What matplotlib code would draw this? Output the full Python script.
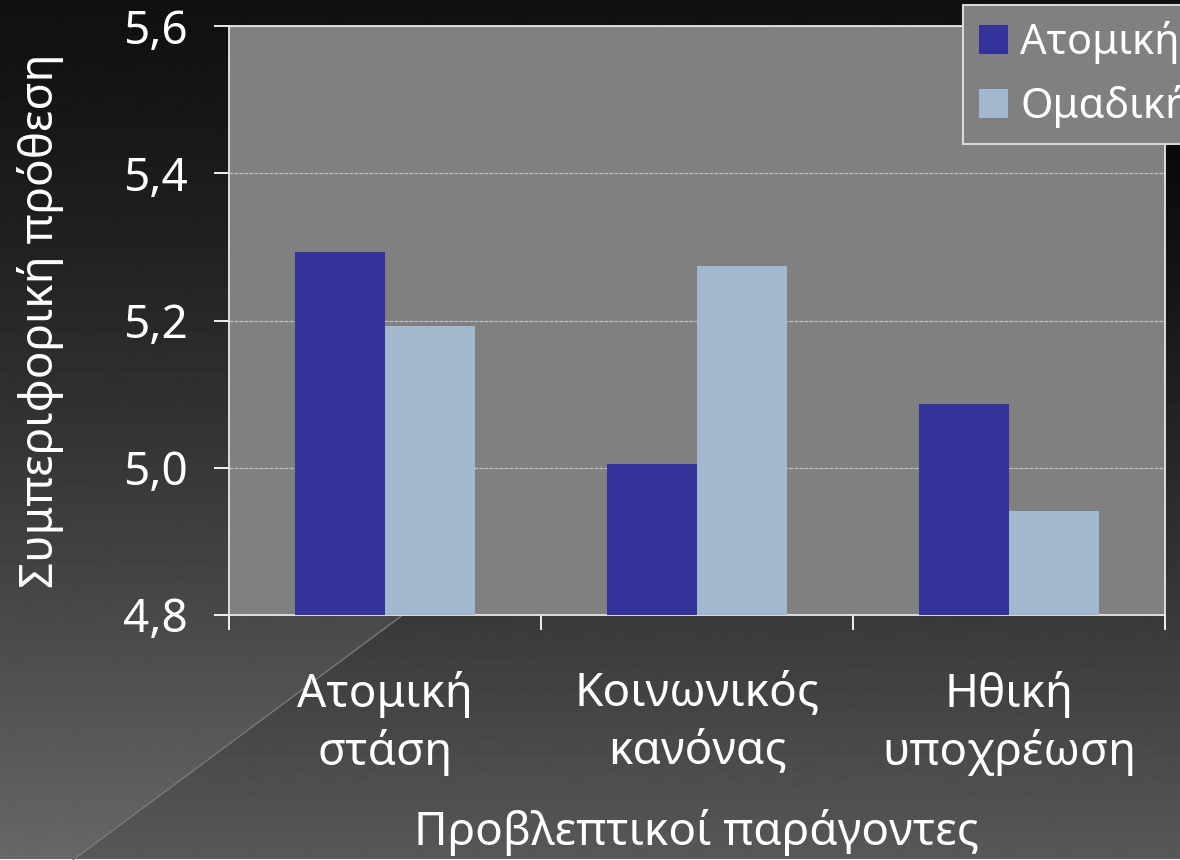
import numpy as np
import matplotlib
matplotlib.use('Agg')
import matplotlib.pyplot as plt
from matplotlib.ticker import FixedLocator, FuncFormatter

plt.rcParams['font.family'] = ['Noto Sans', 'DejaVu Sans']
plt.rcParams['font.weight'] = 'light'

# Data
categories = ['Ατομική\nστάση', 'Κοινωνικός\nκανόνας', 'Ηθική\nυποχρέωση']
series_names = ['Ατομική', 'Ομαδική']
atomiki = [5.293, 5.005, 5.087]
omadiki = [5.192, 5.274, 4.941]
y_ticks = [4.8, 5.0, 5.2, 5.4, 5.6]

W, H = 1180, 860
fig = plt.figure(figsize=(W / 100, H / 100), dpi=100)

# Background: vertical gradient, slightly darker to the right of a diagonal line
bg = fig.add_axes([0, 0, 1, 1], zorder=-10)
yy, xx = np.mgrid[0:H, 0:W]
shade = 0.065 + 0.34 * (yy / H) ** 1.3
right_side = (yy - 617) > -0.743 * (xx - 400)
shade = np.where(right_side, shade - 0.06, shade)
shade = np.clip(shade, 0, 1)
bg.imshow(shade, cmap='gray', vmin=0, vmax=1, aspect='auto', interpolation='bilinear')
bg.plot([73, 400, 1230], [860, 617, 0], color='#7a7a7a', lw=1)
bg.set_xlim(0, W)
bg.set_ylim(H, 0)
bg.axis('off')

ax = fig.add_axes([229 / W, 1 - 615 / H, (1165 - 229) / W, (615 - 26) / H])
ax.set_facecolor('#808080')

x = np.arange(len(categories))
bw = 0.29
ax.bar(x - bw / 2, [v - 4.8 for v in atomiki], bw, bottom=4.8, color='#333399',
       label=series_names[0], zorder=3)
ax.bar(x + bw / 2, [v - 4.8 for v in omadiki], bw, bottom=4.8, color='#A2B8CF',
       label=series_names[1], zorder=3)

ax.set_xlim(-0.5, len(categories) - 0.5)
ax.set_ylim(4.8, 5.6)
ax.set_yticks(y_ticks)
ax.yaxis.set_major_formatter(FuncFormatter(lambda v, p: f'{v:.1f}'.replace('.', ',')))
ax.yaxis.grid(True, color='#c0c0c0', linestyle=(0, (3, 1)), linewidth=0.9, zorder=0)

ax.xaxis.set_major_locator(FixedLocator(np.arange(-0.5, len(categories), 1.0)))
ax.xaxis.set_major_formatter(FuncFormatter(lambda v, p: ''))
ax.xaxis.set_minor_locator(FixedLocator(x))
ax.set_xticklabels(categories, minor=True)
ax.tick_params(axis='x', which='minor', length=0, pad=40, labelsize=33,
               labelcolor='white')
ax.tick_params(axis='x', which='major', length=11, width=1.3, color='white')
ax.tick_params(axis='y', length=11, width=1.3, color='white', labelcolor='white',
               labelsize=33, pad=19)
for lbl in ax.get_xticklabels(minor=True):
    lbl.set_linespacing(1.32)

for s in ax.spines.values():
    s.set_color('#e8e8e8')
    s.set_linewidth(1.3)

ax.set_xlabel('Προβλεπτικοί παράγοντες', color='white', fontsize=33, labelpad=24)
ax.set_ylabel('Συμπεριφορική πρόθεση', color='white', fontsize=33, labelpad=42)

leg = ax.legend(loc='upper left', bbox_to_anchor=(963 / W, 1 - 5 / H),
                bbox_transform=fig.transFigure, fontsize=30, frameon=True,
                fancybox=False, facecolor='#808080', edgecolor='#d8d8d8',
                framealpha=1, handlelength=0.7, handleheight=0.7,
                handletextpad=0.3, labelspacing=0.5, borderpad=0.38,
                borderaxespad=0)
leg.get_frame().set_linewidth(1.5)
for t in leg.get_texts():
    t.set_color('white')

fig.savefig('out.png', dpi=100)
